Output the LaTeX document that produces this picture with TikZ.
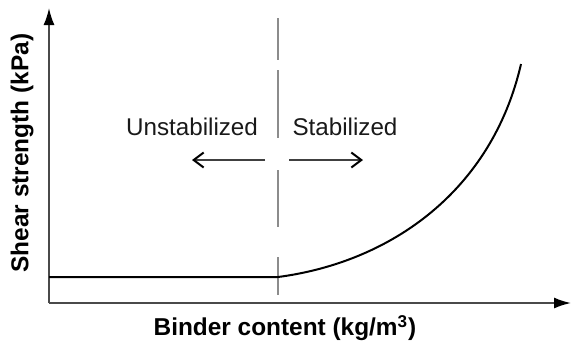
\documentclass[tikz,border=0pt]{standalone}
\usepackage{fontspec}
\setmainfont{Liberation Sans}
\usetikzlibrary{arrows.meta, positioning}
\definecolor{caxis}{HTML}{4A4A4A}
\definecolor{cdash}{HTML}{8C8C8C}
\tikzset{
  every picture/.style={font=\rmfamily, line width=0.9pt},
  axis/.style={draw=caxis, -{Latex[length=8.5pt, width=5.5pt, black]}},
  divider/.style={draw=cdash, line width=0.7pt,
    dash pattern=on 21pt off 5pt on 34pt off 16pt on 28.5pt off 15pt on 19pt off 30pt},
  side/.style={-{Straight Barb[length=5pt, width=7.5pt, line width=1pt, black]}, draw=black!75, line width=0.6pt},
  curve/.style={draw=black, line width=1pt},
  axlabel/.style={font=\rmfamily\bfseries\fontsize{12.2}{14}\selectfont},
  zone/.style={font=\rmfamily\fontsize{12.1}{14}\selectfont, text=black!90},
}

\begin{document}
\begin{tikzpicture}[x=0.5pt, y=-0.5pt]
  \useasboundingbox (0,0) rectangle (571,345);
  % axes
  \coordinate (O) at (49,303);
  \coordinate (ytop) at (49,8);
  \coordinate (xend) at (571,303);
  \draw[axis] (O) -- (ytop);
  \draw[axis] (O) -- (xend);
  % divider between the two zones
  \coordinate (dtop) at (278,18);
  \coordinate (dbot) at (278,296);
  \draw[divider] (dtop) -- (dbot);
  % strength curve
  \coordinate (c0) at (49,277);
  \coordinate (c1) at (278,277);
  \coordinate (c2) at (521,64);
  \draw[curve] (c0) -- (c1) .. controls (392,262) and (492,190) .. (c2);
  % zone labels
  \node[zone] (unst) at (192,127) {Unstabilized};
  \node[zone] (stab) at (345,127) {Stabilized};
  \coordinate (la) at (265,160);
  \coordinate (lb) at (192,160);
  \coordinate (ra) at (289,160);
  \coordinate (rb) at (363,160);
  \draw[side] (la) -- (lb);
  \draw[side] (ra) -- (rb);
  % axis titles
  \node[axlabel, rotate=90] (ylab) at (22,153) {Shear strength (kPa)};
  \node[axlabel] (xlab) at (285,328) {Binder content (kg/m\textsuperscript{3})};
\end{tikzpicture}
\end{document}
